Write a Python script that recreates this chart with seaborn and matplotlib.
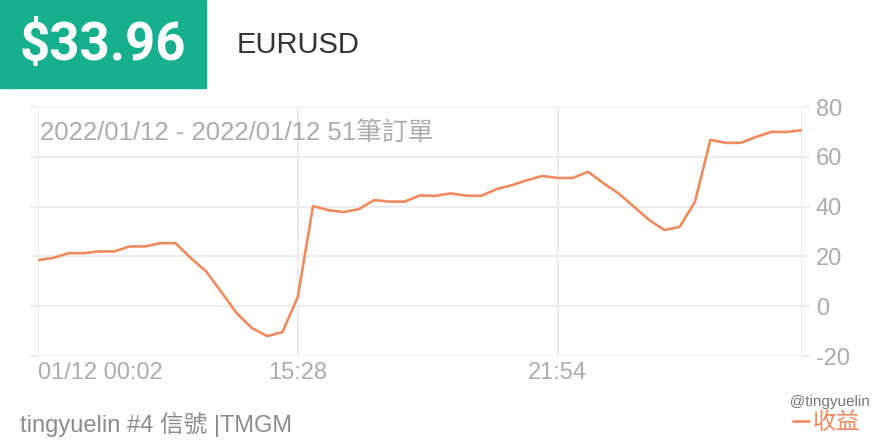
import matplotlib
matplotlib.use("Agg")
import matplotlib.pyplot as plt
import matplotlib.patheffects as pe
import seaborn as sns
import pandas as pd

# ---- data ----
profit = [18.5, 19.4, 21.3, 21.3, 22.0, 22.0, 24.0, 24.0, 25.3, 25.3,
          19.3, 14.0, 5.7, -2.8, -8.8, -12.0, -10.4, 3.7, 40.2, 38.6,
          37.8, 39.0, 42.6, 42.0, 42.0, 44.5, 44.3, 45.3, 44.4, 44.3,
          47.0, 48.6, 50.6, 52.3, 51.5, 51.5, 54.0, 49.4, 45.3, 40.0,
          34.6, 30.6, 31.9, 42.0, 66.8, 65.6, 65.6, 68.0, 70.0, 70.0, 70.7]
order_idx = list(range(len(profit)))
x_tick_pos = [0, 17, 34, 50]
x_tick_labels = ["01/12 00:02", "15:28", "21:54", ""]
y_ticks = [-20, 0, 20, 40, 60, 80]
title_amount = "$33.96"
symbol = "EURUSD"
subtitle = "2022/01/12 - 2022/01/12 51筆訂單"
footer = "tingyuelin #4 信號 |TMGM"
series_name = "收益"
watermark = "@tingyuelin"

df = pd.DataFrame({"idx": order_idx, "profit": profit})

sns.set_theme(style="white")
plt.rcParams["font.family"] = ["Liberation Sans", "Noto Sans CJK TC", "DejaVu Sans"]

W, H = 880, 440
fig = plt.figure(figsize=(W / 100, H / 100), dpi=100)
fig.patch.set_facecolor("white")

GRID = "#ececec"
GRAY = "#adadad"
ORANGE = "#ef8b5f"
GREEN = "#17b08f"

# axes placed in pixel coordinates
x0, x1, ytop, ybot = 38, 802, 107, 356
ax = fig.add_axes([x0 / W, (H - ybot) / H, (x1 - x0) / W, (ybot - ytop) / H])

sns.lineplot(data=df, x="idx", y="profit", ax=ax, color=ORANGE, lw=1.9,
             label=series_name, legend=False)

ax.set_xlim(0, 50)
ax.set_ylim(-20, 80)
ax.set_xlabel("")
ax.set_ylabel("")
for s in ax.spines.values():
    s.set_visible(False)

ax.set_yticks(y_ticks)
ax.set_yticklabels([str(v) for v in y_ticks])
ax.yaxis.tick_right()
ax.tick_params(axis="y", left=True, right=True, labelleft=False, labelright=True,
               length=5, width=1.3, color=GRID, labelcolor=GRAY, labelsize=17, pad=5)
ax.set_xticks(x_tick_pos)
ax.set_xticklabels(x_tick_labels)
ax.tick_params(axis="x", length=0, labelcolor=GRAY, labelsize=17, pad=4)
xl = ax.get_xticklabels()
xl[0].set_ha("left")

ax.grid(True, axis="both", color=GRID, lw=1.3)
ax.set_axisbelow(True)

ax.text(2 / (x1 - x0), (ybot - 133) / (ybot - ytop), subtitle, transform=ax.transAxes,
        ha="left", va="center", fontsize=18.5, color=GRAY)

# header
fig.patches.append(plt.Rectangle((0, (H - 88) / H), 206 / W, 88 / H,
                                 transform=fig.transFigure, color=GREEN, zorder=0))
fig.text(103 / W, 1 - 45 / H, title_amount, ha="center", va="center",
         fontsize=38, fontweight="bold", color="white", family=["Roboto", "DejaVu Sans"])
fig.text(237 / W, 1 - 45 / H, symbol, ha="left", va="center",
         fontsize=21, color="#333333")

# footer
fig.text(20 / W, 1 - 425 / H, footer, ha="left", va="center", fontsize=17, color="#8c8c8c")

handles, labels = ax.get_legend_handles_labels()
leg = fig.legend(handles, labels, loc="center right", bbox_to_anchor=(872 / W, 1 - 423 / H),
                 frameon=False, handlelength=0.7, handletextpad=0.15, fontsize=17,
                 labelcolor=ORANGE, borderpad=0)

fig.text(870 / W, 1 - 402 / H, watermark, ha="right", va="center", fontsize=11,
         color="#777777",
         path_effects=[pe.withStroke(linewidth=2, foreground="white")])

fig.savefig("out.png", dpi=100, facecolor="white")
